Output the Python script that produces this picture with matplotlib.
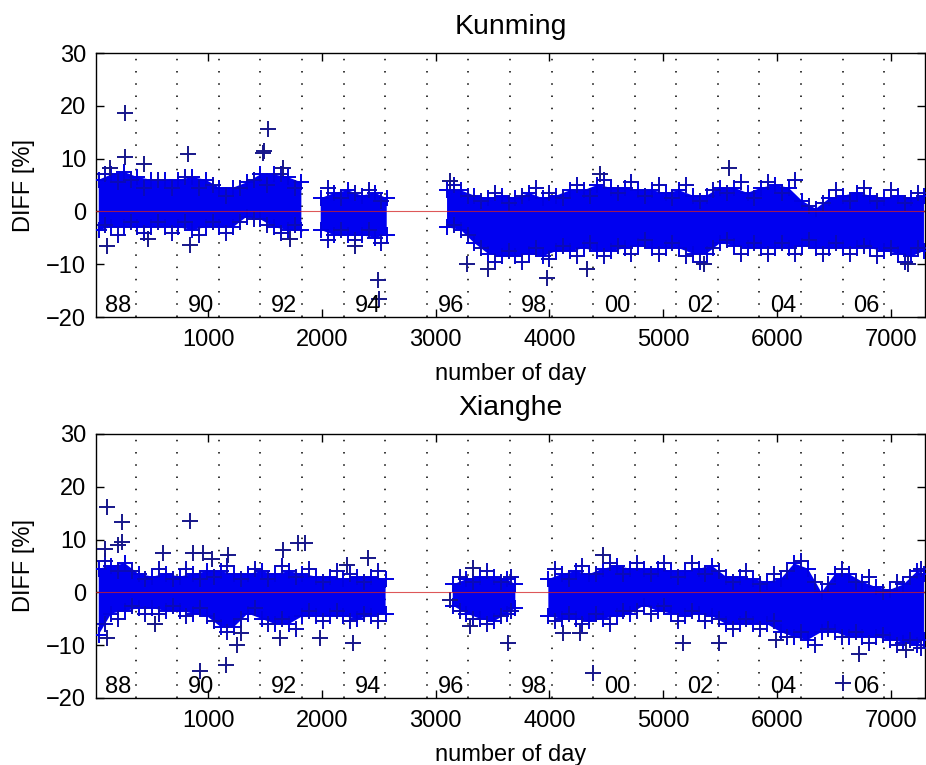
import numpy as np
import matplotlib
matplotlib.use("Agg")
import matplotlib.pyplot as plt

nan = np.nan

# Kunming: upper / lower edge of the dense cloud
kun_day = [40, 150, 260, 380, 500, 620, 740, 860, 980, 1100, 1220, 1340, 1460, 1580, 1700, 1820,
           1900,
           1990, 2110, 2230, 2350, 2470, 2570,
           2800,
           3100, 3220, 3340, 3460, 3580, 3700, 3820, 3940, 4060, 4180, 4300, 4420, 4540, 4660,
           4780, 4900, 5020, 5140, 5260, 5380, 5500, 5620, 5740, 5860, 5980, 6100, 6220, 6340,
           6460, 6580, 6700, 6820, 6940, 7060, 7180, 7290]
kun_hi = [6.0, 7.0, 7.5, 6.5, 6.0, 6.0, 6.0, 6.5, 6.0, 4.5, 4.5, 5.5, 7.0, 7.0, 6.5, 5.5,
          nan,
          2.5, 3.5, 4.0, 3.0, 3.5, 2.5,
          nan,
          4.0, 4.0, 3.0, 2.5, 3.0, 2.5, 3.5, 2.5, 3.0, 4.0, 4.0, 5.0, 4.5, 4.5,
          4.0, 4.0, 3.5, 4.0, 3.0, 3.0, 4.5, 4.5, 3.5, 4.5, 5.0, 4.5, 2.0, 0.5,
          2.5, 3.0, 3.5, 3.0, 2.5, 3.0, 2.5, 3.0]
kun_lo = [-3.5, -3.0, -3.0, -3.0, -3.0, -3.0, -3.0, -3.5, -3.0, -3.0, -3.0, -1.0, -1.5, -3.0, -3.5, -3.5,
          nan,
          -3.5, -4.5, -4.5, -4.5, -5.0, -4.5,
          nan,
          -3.0, -3.5, -6.0, -8.0, -8.5, -8.5, -8.0, -8.5, -7.5, -7.5, -7.0, -7.5, -7.5, -7.0,
          -6.5, -7.0, -7.0, -7.0, -8.0, -8.0, -6.0, -6.5, -7.0, -7.0, -7.0, -7.0, -6.5, -7.0,
          -7.0, -7.0, -7.0, -7.0, -7.5, -8.0, -8.5, -7.5]

# Kunming: extra edge points between the columns above (ragged edge)
kun_day2 = [95, 205, 320, 440, 560, 680, 800, 920, 1040, 1160, 1280, 1400, 1520, 1640, 1760,
            2050, 2170, 2290, 2410, 2520,
            3160, 3280, 3400, 3520, 3640, 3760, 3880, 4000, 4120, 4240, 4360, 4480, 4600, 4720,
            4840, 4960, 5080, 5200, 5320, 5440, 5560, 5680, 5800, 5920, 6040, 6160, 6280, 6400,
            6520, 6640, 6760, 6880, 7000, 7120, 7240]
kun_hi2 = [7.0, 5.5, 6.0, 4.5, 6.0, 4.5, 6.5, 4.5, 5.0, 3.0, 4.5, 6.0, 5.0, 7.0, 4.5,
           4.5, 2.5, 3.5, 4.0, 2.0,
           5.0, 3.0, 2.0, 3.5, 1.5, 3.0, 4.5, 3.5, 2.5, 5.0, 3.0, 6.0, 3.5, 5.5,
           3.0, 5.0, 2.5, 5.0, 2.0, 4.0, 3.5, 5.5, 2.5, 5.5, 3.5, 6.0, 1.0, 1.5,
           4.0, 2.0, 4.5, 2.0, 4.0, 1.5, 3.5]
kun_lo2 = [-2.5, -4.5, -2.0, -4.0, -2.0, -4.0, -2.0, -4.5, -2.0, -4.0, -2.0, -1.5, -2.5, -4.0, -2.5,
           -5.5, -3.5, -5.5, -3.5, -6.0,
           -2.5, -4.5, -7.0, -9.5, -7.5, -9.5, -7.0, -9.0, -6.5, -8.5, -6.0, -8.5, -6.5, -8.0,
           -5.5, -8.0, -6.0, -8.5, -9.5, -7.0, -5.5, -8.0, -6.0, -8.0, -6.0, -8.0, -5.5, -8.0,
           -6.0, -8.0, -6.5, -8.5, -7.0, -9.5, -7.0]

# Kunming: isolated points
kun_out_day = [271, 271, 438, 139, 824, 1483, 1492, 1527, 1659, 113, 473, 842, 1720, 2291, 2493,
               2502, 3126, 3275, 3460, 3978, 4330, 5577, 5357, 7149, 4444]
kun_out_val = [18.6, 10.4, 8.9, 8.2, 10.8, 11.0, 11.4, 15.6, 8.2, -6.6, -5.3, -6.3, -5.3, -6.6, -12.9,
               -16.5, 5.7, -9.9, -11.0, -12.7, -11.0, 8.2, -9.9, -9.9, 7.0]

# Xianghe: upper / lower edge of the dense cloud
xia_day = [40, 150, 270, 390, 510, 630, 750, 870, 990, 1110, 1230, 1350, 1470, 1590, 1710, 1830,
           1950, 2070, 2190, 2310, 2430, 2560,
           2850,
           3150, 3270, 3390, 3510, 3630, 3700,
           3850,
           3990, 4110, 4230, 4350, 4470, 4590, 4710, 4830, 4950, 5070, 5190, 5310, 5430, 5550,
           5670, 5790, 5910, 6030, 6150, 6270, 6390, 6510, 6630, 6750, 6870, 6990, 7110, 7230, 7290]
xia_hi = [4.5, 5.0, 5.5, 3.5, 3.0, 3.5, 3.0, 3.5, 4.0, 4.0, 3.5, 3.5, 4.0, 3.5, 4.0, 3.5,
          3.0, 3.0, 2.5, 3.0, 3.0, 2.5,
          nan,
          1.5, 2.5, 3.0, 3.0, 2.5, 1.5,
          nan,
          2.5, 3.5, 4.0, 3.5, 4.5, 5.0, 4.5, 4.5, 4.5, 4.0, 4.0, 4.5, 5.0, 3.0,
          3.0, 2.5, 2.0, 2.5, 5.5, 4.5, 0.0, 3.5, 3.5, 2.0, 1.0, 0.5, 1.5, 4.0, 3.5]
xia_lo = [-8.0, -4.0, -3.5, -3.0, -3.0, -3.5, -3.5, -4.0, -4.5, -6.5, -6.5, -4.0, -5.0, -6.0, -6.0, -4.5,
          -4.5, -4.5, -4.5, -5.0, -4.5, -4.0,
          nan,
          -2.5, -4.0, -5.0, -5.5, -4.0, -3.0,
          nan,
          -4.5, -5.0, -5.0, -5.5, -5.0, -4.5, -4.0, -2.5, -3.5, -4.0, -4.5, -4.0, -4.5, -6.0,
          -6.0, -6.0, -6.0, -7.5, -8.5, -9.0, -7.5, -7.5, -8.5, -8.5, -8.5, -9.0, -9.5, -10.0, -9.0]

# Xianghe: extra edge points between the columns above
xia_day2 = [95, 210, 330, 450, 570, 690, 810, 930, 1050, 1170, 1290, 1410, 1530, 1650, 1770,
            1890, 2010, 2130, 2250, 2370, 2495,
            3210, 3330, 3450, 3570, 3665,
            4050, 4170, 4290, 4410, 4530, 4650, 4770, 4890, 5010, 5130, 5250, 5370, 5490, 5610,
            5730, 5850, 5970, 6090, 6210, 6330, 6450, 6570, 6690, 6810, 6930, 7050, 7170, 7260]
xia_hi2 = [6.0, 4.0, 4.0, 2.5, 4.5, 2.5, 4.5, 2.5, 3.0, 5.0, 2.5, 4.5, 2.5, 5.0, 3.0,
           4.5, 2.0, 4.0, 3.5, 2.0, 4.0,
           3.0, 2.0, 4.0, 2.0, 3.0,
           4.5, 2.5, 5.0, 3.5, 5.5, 3.5, 5.5, 3.5, 5.5, 3.0, 5.5, 3.5, 4.0, 2.0,
           4.0, 1.5, 3.5, 4.0, 6.0, 2.0, 1.5, 4.5, 2.0, 3.0, 0.0, 2.0, 3.0, 4.5]
xia_lo2 = [-6.0, -5.0, -2.5, -4.0, -4.0, -2.5, -4.5, -3.0, -5.5, -7.5, -5.0, -3.0, -6.0, -5.0, -7.0,
           -3.5, -5.5, -3.5, -5.5, -4.0, -5.5,
           -3.5, -5.0, -6.0, -4.5, -3.5,
           -5.5, -4.0, -6.0, -4.0, -6.0, -3.5, -3.5, -4.0, -2.5, -5.5, -3.5, -5.5, -5.0, -7.0,
           -5.0, -7.0, -5.5, -8.5, -7.5, -10.0, -7.0, -8.5, -7.5, -9.5, -8.0, -10.0, -9.0, -10.5]

# Xianghe: isolated points
xia_out_day = [113, 244, 244, 209, 95, 605, 842, 868, 956, 1035, 1176, 1659, 1790, 1852, 2406,
               2221, 3328, 4470, 113, 534, 930, 1158, 1255, 1290, 1632, 1984, 2274, 3126, 3302,
               3635, 4119, 4268, 4382, 5173, 5489, 5990, 6719, 6578, 7132]
xia_out_val = [16.1, 13.3, 9.5, 8.9, 8.3, 7.4, 13.6, 7.4, 7.4, 6.4, 7.0, 8.0, 9.3, 9.3, 6.6,
               5.1, 4.7, 7.0, -8.7, -5.9, -14.8, -13.8, -10.0, -7.6, -8.7, -8.7, -9.5, -1.5, -6.3,
               -9.5, -7.6, -7.6, -15.3, -9.5, -9.5, -9.1, -11.6, -17.2, -11.0]

year_labels = ["88", "90", "92", "94", "96", "98", "00", "02", "04", "06"]
days_per_year = 365.25

plt.rcParams["font.family"] = ["Liberation Sans", "DejaVu Sans"]
plt.rcParams["font.size"] = 17

fig = plt.figure(figsize=(9.26, 7.65), dpi=100)
ax1 = fig.add_axes([0.1037, 0.5856, 0.8952, 0.3451])
ax2 = fig.add_axes([0.1037, 0.0876, 0.8952, 0.3451])

panels = [
    (ax1, "Kunming", kun_day, kun_hi, kun_lo, kun_day2, kun_hi2, kun_lo2, kun_out_day, kun_out_val),
    (ax2, "Xianghe", xia_day, xia_hi, xia_lo, xia_day2, xia_hi2, xia_lo2, xia_out_day, xia_out_val),
]

mk = dict(ls="none", marker="+", ms=12, mew=1.4, zorder=3)

for ax, title, day, hi, lo, day2, hi2, lo2, oday, oval in panels:
    # year boundaries
    for k in range(1, 20):
        ax.axvline(k * days_per_year, color="black", lw=1.1, ls=(0, (1, 7)), zorder=1)

    # dense core of the cloud
    ax.fill_between(day, lo, hi, color="#0000f0", lw=0, zorder=2)
    ax.plot(day, hi, color="#0000e0", **mk)
    ax.plot(day, lo, color="#0000e0", **mk)
    ax.plot(day2, hi2, color="#0a0ab8", **mk)
    ax.plot(day2, lo2, color="#0a0ab8", **mk)
    ax.plot(oday, oval, color="#16168a", **mk)
    ax.axhline(0, color="#d42020", lw=0.8, alpha=0.75, zorder=4)

    for i, lab in enumerate(year_labels):
        ax.text(2 * i * days_per_year + 210, -18, lab, ha="center", va="center", zorder=5)

    ax.set_xlim(16, 7299)
    ax.set_ylim(-20, 30)
    ax.set_xticks([1000, 2000, 3000, 4000, 5000, 6000, 7000])
    ax.set_yticks([-20, -10, 0, 10, 20, 30])
    ax.tick_params(direction="in", top=True, right=True, length=5.8, width=1)
    ax.tick_params(axis="x", pad=8.5)
    ax.tick_params(axis="y", pad=7)
    for s in ax.spines.values():
        s.set_linewidth(1.0)
    ax.set_title(title, pad=14)
    ax.set_xlabel("number of day", labelpad=9)
    ax.set_ylabel("DIFF [%]")
    ax.yaxis.set_label_coords(-0.074, 0.5)

fig.savefig("out.png", dpi=100)
